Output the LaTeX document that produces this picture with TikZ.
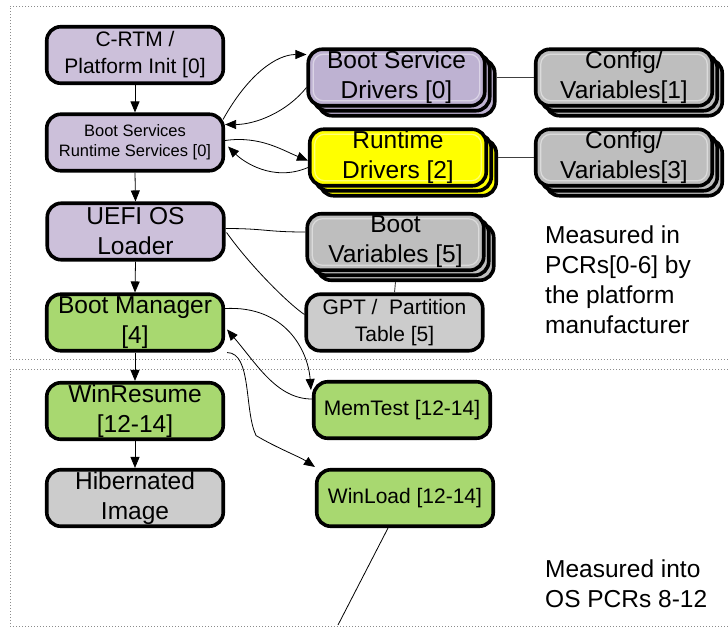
\documentclass[tikz,border=0pt]{standalone}
\usepackage{fontspec}
\setmainfont{Liberation Sans}
\usetikzlibrary{arrows.meta,calc}
\definecolor{lav}{RGB}{204,192,218}
\definecolor{lavd}{RGB}{190,178,210}
\definecolor{grn}{RGB}{168,216,112}
\definecolor{gry}{RGB}{204,204,204}
\definecolor{gryd}{RGB}{190,190,190}
\definecolor{yel}{RGB}{255,255,0}
\definecolor{dotc}{RGB}{140,140,140}
\tikzset{
  box/.style={draw=black, line width=3.6pt, rounded corners=14pt, inner sep=0pt,
    align=center, minimum width=176.5pt, minimum height=56.5pt},
  hl/.style={path picture={\draw[white, opacity=0.45, line width=1.2pt, rounded corners=10pt]
    ($(path picture bounding box.north west)+(5,5)$) rectangle
    ($(path picture bounding box.south east)+(-5,-5)$);}},
  big/.style={font=\fontsize{24.5}{30}\selectfont},
  mid/.style={font=\fontsize{21}{27}\selectfont},
  small/.style={font=\fontsize{16.5}{20}\selectfont},
  conn/.style={line width=0.8pt, black},
  gconn/.style={line width=0.9pt, black!75},
  arr/.style={conn, -{Triangle[length=11pt,width=9pt]}},
  dotline/.style={dotc, line width=1pt, dash pattern=on 1pt off 2pt},
  txt/.style={big, align=left, anchor=north west, inner sep=0pt}
}
\begin{document}
\begin{tikzpicture}[x=1pt,y=-1pt]
\useasboundingbox (0,0) rectangle (728,627);
% dotted regions
\draw[dotline] (740,6) -- (10,6) -- (10,359) -- (740,359);
\draw[dotline] (740,369) -- (10,369) -- (10,626) -- (740,626);

% left column
\node[box, fill=lav, mid] (crtm) at (135,55) {C-RTM /\\Platform Init [0]};
\node[box, fill=lav, small] (bsrs) at (135,142.5) {Boot Services\\Runtime Services [0]};
\node[box, fill=lav, big] (uefi) at (135.5,231.5) {UEFI OS\\Loader};
\node[box, fill=grn, big] (bm) at (135,322.5) {Boot Manager\\{}[4]};
\node[box, fill=grn, big] (wr) at (135,411) {WinResume\\{}[12-14]};
\node[box, fill=gry, big] (hib) at (135,498) {Hibernated\\Image};

% stacked boxes
\node[box, fill=lavd] (bsdc2) at (406.5,87.5) {};
\node[box, fill=lavd] (bsdc1) at (401.5,82.5) {};
\node[box, fill=lavd, hl, big] (bsd) at (396.5,77.5) {Boot Service\\Drivers [0]};

\node[box, fill=yel] (rtdc2) at (408,167.5) {};
\node[box, fill=yel] (rtdc1) at (403,162.5) {};
\node[box, fill=yel, hl, big] (rtd) at (398,157.5) {Runtime\\Drivers [2]};

\node[box, fill=gryd] (cfg1c2) at (634,87.5) {};
\node[box, fill=gryd] (cfg1c1) at (629,82.5) {};
\node[box, fill=gryd, hl, big] (cfg1) at (624,77.5) {Config/\\Variables[1]};

\node[box, fill=gryd] (cfg3c2) at (634,167.5) {};
\node[box, fill=gryd] (cfg3c1) at (629,162.5) {};
\node[box, fill=gryd, hl, big] (cfg3) at (624,157.5) {Config/\\Variables[3]};

\node[box, fill=gryd] (bvarc2) at (405.5,252) {};
\node[box, fill=gryd] (bvarc1) at (400.5,247) {};
\node[box, fill=gryd, hl, big] (bvar) at (395.5,242) {Boot\\Variables [5]};

\node[box, fill=gry, mid] (gpt) at (394.5,322.5) {GPT /\ \ Partition\\Table [5]};
\node[box, fill=grn, mid] (mem) at (402,410) {MemTest [12-14]};
\node[box, fill=grn, mid] (wl) at (405,498) {WinLoad [12-14]};

% texts
\node[txt] (meas1) at (545,226) {Measured in\\PCRs[0-6] by\\the platform\\manufacturer};
\node[txt] (meas2) at (545,560) {Measured into\\OS PCRs 8-12};

% vertical arrows
\draw[arr] (crtm.south) -- (bsrs.north);
\draw[arr] (bsrs.south) -- (uefi.north);
\draw[arr] (uefi.south) -- (bm.north);
\draw[arr] (bm.south) -- (wr.north);
\draw[arr] (wr.south) -- (hib.north);

% boot services <-> drivers
\draw[arr] ($(bsrs.north east)+(-2,7)$) .. controls +(25,-45) and +(-30,0) .. ($(bsd.west)+(0,-23)$);
\draw[arr] ($(bsd.west)+(0,10)$) .. controls +(-20,25) and +(30,0) .. ($(bsrs.east)+(0,-18)$);
\draw[arr] ($(bsrs.east)+(0,-2)$) .. controls +(35,-5) and +(-25,-10) .. ($(rtd.west)+(0,3)$);
\draw[arr] ($(rtd.west)+(0,10)$) .. controls +(-35,15) and +(15,15) .. ($(bsrs.east)+(3,4)$);

% config links
\draw[gconn] ($(bsd.east)+(10,0)$) -- (cfg1.west);
\draw[gconn] ($(rtd.east)+(10,0)$) -- (cfg3.west);

% loader links
\draw[conn] ($(uefi.east)+(0,-3)$) .. controls +(40,0) and +(-40,0) .. ($(bvar.west)+(0,-10)$);
\draw[conn] ($(uefi.east)+(1,1)$) .. controls +(25,35) and +(-15,-10) .. ($(gpt.west)+(0,-8)$);
\draw[gconn] ($(bvar.south)+(0,10)$) -- (gpt.north);

% boot manager links
\draw[arr] ($(bm.east)+(0,-14)$) .. controls +(60,-3) and +(-3,-40) .. ($(mem.north west)+(-1,10)$);
\draw[arr] ($(mem.west)+(0,-11)$) .. controls +(-35,0) and +(30,35) .. ($(bm.east)+(2,7)$);
\coordinate (bmwl) at ($(bm.south east)+(31,83)$);
\draw[arr] ($(bm.south east)+(2,0)$) .. controls +(25,0) and +(-12,-25) .. (bmwl)
  .. controls +(20,12) and +(-15,-10) .. ($(wl.north west)+(0,-1)$);

% winload continues
\coordinate (wlend) at (338,625);
\draw[conn] ($(wl.south)+(-17,0)$) -- (wlend);
\end{tikzpicture}
\end{document}
